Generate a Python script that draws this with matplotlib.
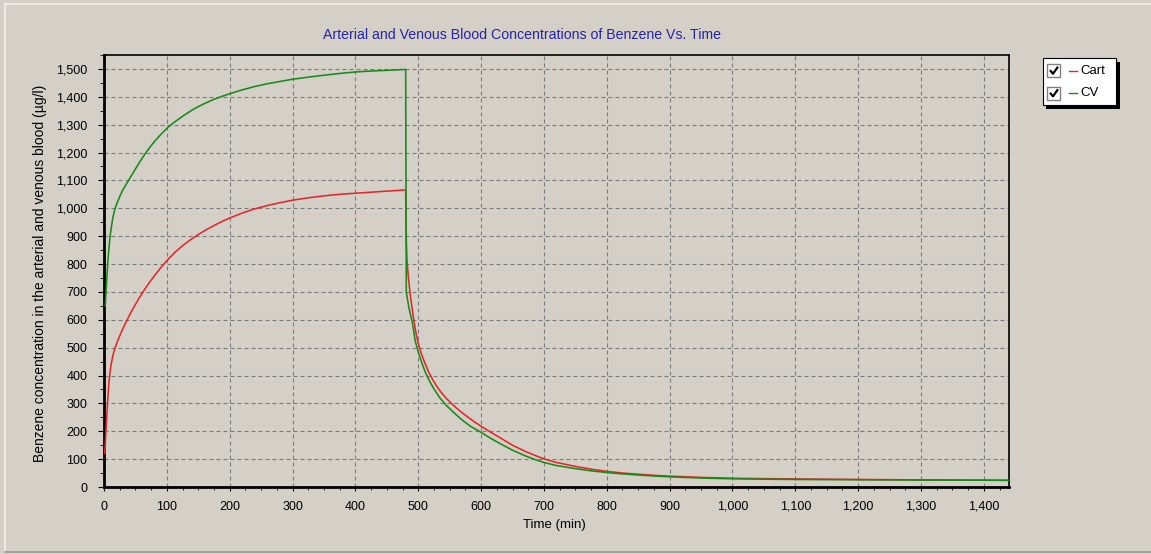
import matplotlib
matplotlib.use("Agg")
import matplotlib.pyplot as plt
from matplotlib.ticker import MultipleLocator, FuncFormatter
from matplotlib.patches import Rectangle
from matplotlib.lines import Line2D

plt.rcParams['font.family'] = ['Liberation Sans', 'DejaVu Sans']

# arterial blood (Cart): 8 h exposure, then washout
cart_t = [1, 2, 3, 4, 5, 6, 7, 8, 9, 11, 14, 17, 21, 25, 30, 36, 43, 50, 57, 65, 72,
          80, 90, 100, 112, 125, 137, 150, 162, 175, 187, 200, 220, 240, 260, 280,
          300, 320, 340, 360, 380, 400, 420, 440, 460, 480,
          481, 482, 484, 487, 490, 493, 496, 500, 505, 510, 516, 523, 530, 536, 543,
          550, 560, 570, 580, 590, 600, 615, 630, 650, 670, 685, 700, 720, 750, 775,
          800, 825, 850, 875, 900, 950, 1000, 1050, 1100, 1150, 1200, 1300, 1440]
cart_c = [120, 150, 195, 235, 275, 315, 350, 378, 400, 435, 470, 495, 520, 542, 568, 596, 627, 655, 682, 710, 733,
          757, 786, 812, 840, 866, 886, 906, 922, 938, 952, 965, 983, 998, 1010, 1020,
          1029, 1036, 1042, 1047, 1051, 1054, 1057, 1060, 1063, 1066,
          886, 820, 760, 695, 645, 598, 558, 515, 478, 448, 415, 385, 360, 341, 322,
          306, 285, 266, 249, 233, 218, 197, 177, 150, 128, 114, 101, 88, 74, 64,
          56, 50, 46, 42, 39, 34.5, 31.5, 30, 29, 28, 27, 25.5, 24]

# venous blood (CV)
cv_t = [2, 3, 4, 5, 6, 7, 8, 10, 12, 14, 17, 21, 25, 30, 39, 50, 57, 65, 72,
        80, 90, 102, 112, 125, 135, 145, 160, 175, 187, 200, 220, 240, 260, 280,
        300, 330, 360, 380, 400, 420, 440, 460, 480,
        481, 483, 485, 488, 490, 493, 495, 500, 505, 511, 518, 525, 535, 545, 560,
        570, 583, 600, 615, 630, 650, 670, 685, 700, 720, 750, 775, 800, 825, 850,
        875, 900, 950, 1000, 1050, 1100, 1200, 1300, 1440]
cv_c = [650, 690, 730, 770, 805, 835, 862, 905, 937, 965, 995, 1020, 1042, 1066, 1100, 1141, 1167, 1194, 1216,
        1239, 1264, 1291, 1309, 1330, 1345, 1359, 1376, 1391, 1401, 1411, 1425, 1437, 1447, 1455,
        1463, 1472, 1480, 1485, 1489, 1492, 1494, 1496, 1498,
        700, 672, 645, 615, 598, 558, 525, 485, 450, 413, 380, 352, 318, 292, 260,
        240, 218, 196, 175, 156, 132, 112, 99, 88, 77, 66, 58, 52, 47, 43,
        39.5, 36.5, 32, 29.5, 28, 27, 26, 25, 24]

title = "Arterial and Venous Blood Concentrations of Benzene Vs. Time"
xlabel = "Time (min)"
ylabel = "Benzene concentration in the arterial and venous blood (\u00b5g/l)"
series_names = ["Cart", "CV"]
series_colors = ["#e52626", "#178a17"]

W, H = 1151, 554
bg = "#d4d0c8"

fig = plt.figure(figsize=(W / 100, H / 100), dpi=100, facecolor=bg)

# plot area in pixels: left 104, right 1009, top 55, bottom 487
ax = fig.add_axes([104 / W, 1 - 487 / H, (1009 - 104) / W, (487 - 55) / H])
ax.set_facecolor(bg)

ax.plot(cart_t, cart_c, color=series_colors[0], lw=1.15, zorder=3)
ax.plot(cv_t, cv_c, color=series_colors[1], lw=1.15, zorder=4)

ax.set_xlim(0, 1440)
ax.set_ylim(0, 1550)
ax.xaxis.set_major_locator(MultipleLocator(100))
ax.xaxis.set_minor_locator(MultipleLocator(25))
ax.yaxis.set_major_locator(MultipleLocator(100))
ax.yaxis.set_minor_locator(MultipleLocator(50))
comma = FuncFormatter(lambda v, p: f"{int(v):,}")
ax.xaxis.set_major_formatter(comma)
ax.yaxis.set_major_formatter(comma)

ax.grid(True, which='major', color='#7a7a7a', lw=0.8, linestyle=(0, (3.6, 2.7)), zorder=1)
ax.set_axisbelow(True)

ax.tick_params(axis='both', which='both', direction='out', color='black', labelsize=9)
ax.tick_params(axis='x', which='major', length=3, pad=7)
ax.tick_params(axis='x', which='minor', length=2.5)
ax.tick_params(axis='y', which='major', length=4, pad=8)
ax.tick_params(axis='y', which='minor', length=3)

for side in ['left', 'bottom']:
    ax.spines[side].set_linewidth(2.0)
for side in ['top', 'right']:
    ax.spines[side].set_linewidth(1.2)
for s in ax.spines.values():
    s.set_color('black')

ax.set_xlabel(xlabel, fontsize=9.5)
ax.set_ylabel(ylabel, fontsize=10)
ax.xaxis.set_label_coords(0.498, -0.073)
ax.yaxis.set_label_coords(-0.063, 0.494)

fig.text(522 / W, 1 - 35 / H, title, color='#2424a8', fontsize=10.2, ha='center', va='center')

# overlay in pixel coordinates for the panel border and the legend box
ov = fig.add_axes([0, 0, 1, 1], zorder=10)
ov.set_xlim(0, W)
ov.set_ylim(H, 0)
ov.axis('off')
ov.patch.set_alpha(0)

ov.add_line(Line2D([5, W], [4, 4], color='#f4f2ee', lw=1.2))
ov.add_line(Line2D([5, 5], [4, 552], color='#f4f2ee', lw=1.2))
ov.add_line(Line2D([5, W], [552, 552], color='#9a9892', lw=1.2))

# legend with drop shadow and check boxes
ov.add_patch(Rectangle((1046, 62), 74, 47, facecolor='black', edgecolor='none'))
ov.add_patch(Rectangle((1043, 58), 73, 47, facecolor='white', edgecolor='black', lw=0.8))
for i, (name, col) in enumerate(zip(series_names, series_colors)):
    yc = 70.7 + i * 22.6
    ov.add_patch(Rectangle((1047, yc - 6.5), 13, 13, facecolor='white',
                           edgecolor='#808080', lw=1.0))
    ov.add_line(Line2D([1050, 1053, 1058], [yc - 0.5, yc + 3, yc - 4],
                       color='black', lw=1.6, solid_capstyle='butt'))
    ov.add_line(Line2D([1069, 1077], [yc, yc], color=col, lw=1.0))
    ov.text(1080, yc, name, fontsize=9.5, ha='left', va='center')

fig.savefig("out.png", dpi=100, facecolor=bg)
